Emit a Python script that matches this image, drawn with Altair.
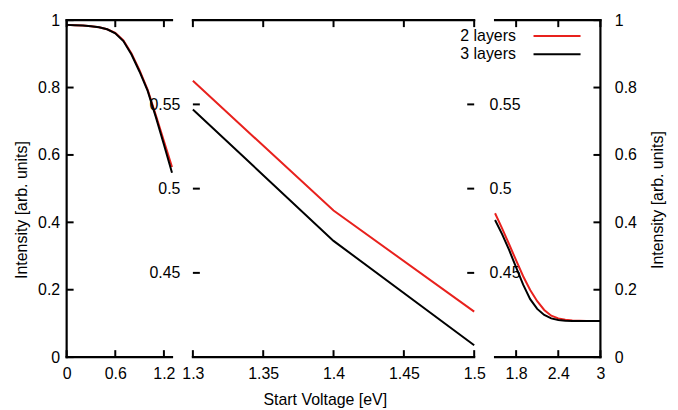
import altair as alt
import pandas as pd

# ---------------- data ----------------
series = ["2 layers", "3 layers"]
colors = ["#e8211d", "#000000"]

x_vals = [0.0, 0.1, 0.2, 0.3, 0.4, 0.5, 0.6, 0.7, 0.8, 0.9,
          1.0, 1.1, 1.2, 1.3, 1.4, 1.5, 1.6, 1.7, 1.8, 1.9,
          2.0, 2.1, 2.2, 2.3, 2.4, 2.5, 2.6, 2.7, 2.8, 2.9, 3.0]
two_layers = [0.986, 0.985, 0.984, 0.982, 0.979, 0.973, 0.962, 0.940, 0.901, 0.851,
              0.793, 0.718, 0.641, 0.564, 0.487, 0.427, 0.382, 0.335, 0.287, 0.240,
              0.199, 0.166, 0.140, 0.123, 0.115, 0.111, 0.109, 0.108, 0.107, 0.107, 0.107]
three_layers = [0.986, 0.985, 0.984, 0.982, 0.979, 0.973, 0.961, 0.938, 0.898, 0.847,
                0.790, 0.713, 0.631, 0.547, 0.469, 0.407, 0.365, 0.318, 0.266, 0.215,
                0.172, 0.143, 0.125, 0.115, 0.110, 0.108, 0.107, 0.107, 0.107, 0.107, 0.107]

left_xticks = [0, 0.6, 1.2]
left_xlabels = ["0", "0.6", "1.2"]
mid_xticks = [1.3, 1.35, 1.4, 1.45, 1.5]
mid_xlabels = ["1.3", "1.35", "1.4", "1.45", "1.5"]
right_xticks = [1.8, 2.4, 3.0]
right_xlabels = ["1.8", "2.4", "3"]
outer_yticks = [0, 0.2, 0.4, 0.6, 0.8, 1.0]
mid_yticks = [0.45, 0.5, 0.55]

left_xdomain = [0, 1.3]
mid_xdomain = [1.3, 1.5]
right_xdomain = [1.5, 3.0]
outer_ydomain = [0, 1]
mid_ydomain = [0.4, 0.6]

x_title = "Start Voltage [eV]"
y_title = "Intensity [arb. units]"

# ---------------- build ----------------
rows = []
for name, vals in zip(series, [two_layers, three_layers]):
    for x, v in zip(x_vals, vals):
        rows.append({"x": x, "v": v, "series": name})
df = pd.DataFrame(rows)

H = 339
TL = 7
BW = 2.2
FONT = "Liberation Sans"
FS = 16

color_enc = alt.Color("series:N",
                      scale=alt.Scale(domain=series, range=colors),
                      legend=None)


def tick_df(vals):
    return pd.DataFrame({"t": vals})


def label_expr(ticks, labels):
    parts = []
    for t, lab in zip(ticks, labels):
        parts.append(f"abs(datum.value - {t}) < 1e-6 ? '{lab}' : ")
    return "".join(parts) + "datum.label"


def border(x, x2, y, y2=None):
    enc = dict(x=alt.value(x), y=alt.value(y))
    if x2 is not None:
        enc["x2"] = alt.value(x2)
    if y2 is not None:
        enc["y2"] = alt.value(y2)
    return alt.Chart(tick_df([0])).mark_rule(strokeWidth=BW, color="black",
                                             strokeCap="square").encode(**enc)


def panel(W, xdom, ydom, xticks, xlabels, yticks, kind):
    xs = alt.Scale(domain=xdom, nice=False, zero=False)
    ys = alt.Scale(domain=ydom, nice=False, zero=False)

    xaxis_kw = dict(orient="bottom", values=xticks, ticks=False,
                    labelExpr=label_expr(xticks, xlabels),
                    domain=False, grid=False, labelFlush=False, labelPadding=9,
                    labelOverlap=False, labelBound=False, labelLimit=300,
                    title=None)
    if kind == "mid":
        xaxis_kw.update(title=x_title, titleX=132.7, titleY=43,
                        titleAlign="center", titleBaseline="middle")

    if kind == "left":
        yaxis = alt.Axis(orient="left", values=yticks, format="~g", ticks=False,
                         domain=False, grid=False, labelPadding=7, labelFlush=False,
                         labelOverlap=False,
                         title=y_title, titleAngle=270, titleX=-45.5, titleY=190.5,
                         titleAlign="center", titleBaseline="middle")
    elif kind == "right":
        yaxis = alt.Axis(orient="right", values=yticks, format="~g", ticks=False,
                         domain=False, grid=False, labelPadding=14, labelFlush=False,
                         labelOverlap=False,
                         title=y_title, titleAngle=270, titleX=57, titleY=180.5,
                         titleAlign="center", titleBaseline="middle")
    else:
        yaxis = alt.Axis(orient="left", values=yticks, format="~g", ticks=False,
                         domain=False, grid=False, labelPadding=13, labelFlush=False,
                         labelOverlap=False, title=None)

    lo, hi = xdom[0] - 1e-9, xdom[1] + 1e-9
    lines = alt.Chart(df).transform_filter(
        (alt.datum.x >= lo) & (alt.datum.x <= hi)
    ).mark_line(strokeWidth=2).encode(
        x=alt.X("x:Q", scale=xs, axis=None),
        y=alt.Y("v:Q", scale=ys, axis=yaxis),
        color=color_enc,
    )

    top = alt.Chart(tick_df(xticks)).mark_rule(strokeWidth=2, color="black").encode(
        x=alt.X("t:Q", scale=xs, axis=None),
        y=alt.value(0), y2=alt.value(TL),
    )
    bottom = alt.Chart(tick_df(xticks)).mark_rule(strokeWidth=2, color="black").encode(
        x=alt.X("t:Q", scale=xs, axis=alt.Axis(**xaxis_kw)),
        y=alt.value(H), y2=alt.value(H - TL),
    )
    layers = [lines, top, bottom, border(0, W, 0), border(0, W, H)]

    if kind == "left":
        layers.append(border(0, None, 0, H))
    if kind == "right":
        layers.append(border(W, None, 0, H))

    if kind in ("left", "mid"):
        layers.append(
            alt.Chart(tick_df(yticks)).mark_rule(strokeWidth=2, color="black").encode(
                y=alt.Y("t:Q", scale=ys, axis=None),
                x=alt.value(0), x2=alt.value(TL),
            )
        )
    if kind in ("right", "mid"):
        if kind == "mid":
            raxis = alt.Axis(orient="right", values=yticks, format="~g", ticks=False,
                             domain=False, grid=False, labelPadding=15,
                             labelFlush=False, labelOverlap=False, title=None)
        else:
            raxis = None
        layers.append(
            alt.Chart(tick_df(yticks)).mark_rule(strokeWidth=2, color="black").encode(
                y=alt.Y("t:Q", scale=ys, axis=raxis),
                x=alt.value(W), x2=alt.value(W - TL),
            )
        )
    if kind == "right":
        leg = pd.DataFrame({"series": series})
        for i, (name, col) in enumerate(zip(series, colors)):
            yy = 16 + i * 18.3
            layers.append(
                alt.Chart(leg.iloc[[i]]).mark_text(
                    align="right", baseline="middle", font=FONT, fontSize=FS,
                    color="black").encode(
                    text="series:N", x=alt.value(21), y=alt.value(yy))
            )
            layers.append(
                alt.Chart(leg.iloc[[i]]).mark_rule(strokeWidth=2, color=col).encode(
                    x=alt.value(38.7), x2=alt.value(86), y=alt.value(yy))
            )

    return alt.layer(*layers).resolve_axis(
        x="independent", y="independent"
    ).properties(width=W, height=H)


left = panel(106, left_xdomain, outer_ydomain, left_xticks, left_xlabels,
             outer_yticks, "left")
mid = panel(283, mid_xdomain, mid_ydomain, mid_xticks, mid_xlabels,
            mid_yticks, "mid")
right = panel(106, right_xdomain, outer_ydomain, right_xticks, right_xlabels,
              outer_yticks, "right")

chart = alt.hconcat(left, mid, right, spacing=21, bounds="flush").properties(
    padding={"left": 5, "top": 3, "right": 5, "bottom": 5}
).configure_view(stroke=None).configure_axis(
    labelFont=FONT, labelFontSize=FS, labelColor="black",
    titleFont=FONT, titleFontSize=FS, titleColor="black", titleFontWeight="normal",
)

chart.save("out.html", embed_options={"renderer": "svg", "actions": False})
